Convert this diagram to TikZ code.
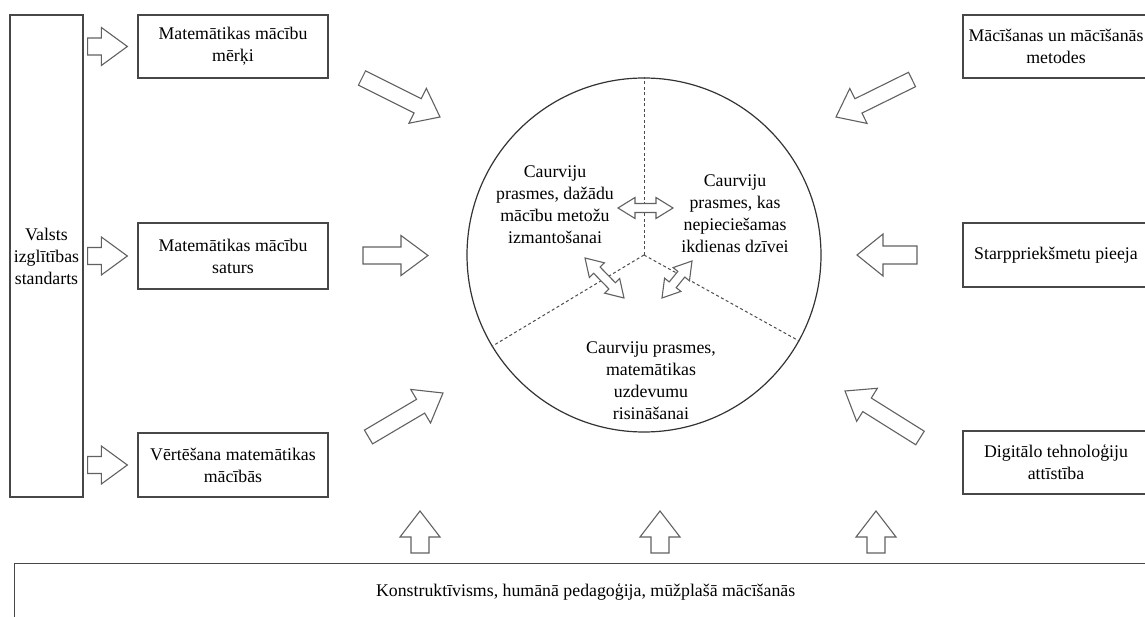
\documentclass[tikz,border=0pt]{standalone}
\usepackage{fontspec}
\setmainfont{Liberation Serif}
\usetikzlibrary{calc}

\tikzset{
  txt/.style={font=\fontsize{17.8pt}{22pt}\selectfont, align=center, text=black},
  boxnode/.style={txt, draw=black!72, line width=1.3pt, fill=white, inner sep=2pt},
  blockarrow/.style={draw=black!62, line width=1.1pt, fill=white, line join=miter},
  divider/.style={draw=black!70, line width=1pt, dash pattern=on 3pt off 2.5pt},
}

% outline block arrow: back point, tip point, half shaft width, half head width, head length (pt)
\newcommand\blkarrow[5]{%
  \coordinate (ba-b) at (#1);
  \coordinate (ba-t) at (#2);
  \coordinate (ba-h) at ($(ba-t)!#5pt!(ba-b)$);
  \draw[blockarrow] ($(ba-b)!#3pt!90:(ba-t)$) -- ($(ba-h)!#3pt!90:(ba-t)$)
    -- ($(ba-h)!#4pt!90:(ba-t)$) -- (ba-t) -- ($(ba-h)!#4pt!-90:(ba-t)$)
    -- ($(ba-h)!#3pt!-90:(ba-t)$) -- ($(ba-b)!#3pt!-90:(ba-t)$) -- cycle;
}

% outline double-headed block arrow between two tips
\newcommand\dblarrow[5]{%
  \coordinate (da-a) at (#1);
  \coordinate (da-b) at (#2);
  \coordinate (da-h1) at ($(da-a)!#5pt!(da-b)$);
  \coordinate (da-h2) at ($(da-b)!#5pt!(da-a)$);
  \draw[blockarrow] (da-a) -- ($(da-h1)!#4pt!90:(da-b)$) -- ($(da-h1)!#3pt!90:(da-b)$)
    -- ($(da-h2)!#3pt!-90:(da-a)$) -- ($(da-h2)!#4pt!-90:(da-a)$) -- (da-b)
    -- ($(da-h2)!#4pt!90:(da-a)$) -- ($(da-h2)!#3pt!90:(da-a)$)
    -- ($(da-h1)!#3pt!-90:(da-b)$) -- ($(da-h1)!#4pt!-90:(da-b)$) -- cycle;
}

\begin{document}
\begin{tikzpicture}[x=1pt, y=-1pt]
  \useasboundingbox (0,0) rectangle (1145,617);
  \clip (0,0) rectangle (1145,617);

  % left column
  \node[boxnode, minimum width=73pt, minimum height=482pt] (std) at (46.5,256)
    {Valsts\\izglītības\\standarts};
  \node[boxnode, minimum width=190pt, minimum height=63pt] (goals) at (233,46.5)
    {Matemātikas mācību\\mērķi};
  \node[boxnode, minimum width=190pt, minimum height=66pt] (content) at (233,256)
    {Matemātikas mācību\\saturs};
  \node[boxnode, minimum width=190pt, minimum height=64pt] (assess) at (233,465)
    {Vērtēšana matemātikas\\mācībās};

  % right column
  \node[boxnode, minimum width=186pt, minimum height=63pt] (methods) at (1056,46.5)
    {Mācīšanas un mācīšanās\\metodes};
  \node[boxnode, minimum width=186pt, minimum height=64pt] (inter) at (1056,255)
    {Starppriekšmetu pieeja};
  \node[boxnode, minimum width=186pt, minimum height=63pt] (digital) at (1056,462.5)
    {Digitālo tehnoloģiju\\attīstība};

  % foundation box
  \node[boxnode, anchor=north west, minimum width=1142pt, minimum height=56pt] (base)
    at (14,563) {Konstruktīvisms, humānā pedagoģija, mūžplašā mācīšanās};

  % central circle with three sectors
  \node[circle, draw=black!80, line width=1.2pt, minimum size=354pt, inner sep=0pt] (circ) at (644,255) {};
  \draw[divider] (circ.center) -- (circ.90);
  \draw[divider] (circ.center) -- (circ.211);
  \draw[divider] (circ.center) -- (circ.331);

  \node[txt] (s1) at (555,205) {Caurviju\\prasmes, dažādu\\mācību metožu\\izmantošanai};
  \node[txt] (s2) at (735,214) {Caurviju\\prasmes, kas\\nepieciešamas\\ikdienas dzīvei};
  \node[txt] (s3) at (651,381) {Caurviju prasmes,\\matemātikas\\uzdevumu\\risināšanai};

  % links between sectors
  \dblarrow{618,208}{673,208}{4.5}{10.5}{17}
  \dblarrow{585,258}{624,298}{4.5}{10.5}{17}
  \dblarrow{662,298}{692,261}{4.5}{10.5}{17}

  % standards feed the three left boxes
  \blkarrow{$(std.east |- goals.west)+(4,0)$}{$(goals.west)+(-10,0)$}{8.5}{19}{26}
  \blkarrow{$(std.east |- content.west)+(4,0)$}{$(content.west)+(-10,0)$}{8.5}{19}{26}
  \blkarrow{$(std.east |- assess.west)+(4,0)$}{$(assess.west)+(-10,0)$}{8.5}{19}{26}

  % arrows into the circle
  \blkarrow{362,78}{440,117}{8}{19.5}{25}
  \blkarrow{363,255.5}{428,255.5}{8.5}{20}{27}
  \blkarrow{368.5,437}{443,393}{8}{19.5}{26}
  \blkarrow{912,79.5}{836,117}{8}{19.5}{25}
  \blkarrow{917,255}{857,255}{9}{21}{26}
  \blkarrow{920,438}{845,391}{8}{19.5}{26}

  % arrows up from the foundation
  \blkarrow{420,553}{420,511}{9}{20}{26}
  \blkarrow{660,553}{660,511}{9}{20}{26}
  \blkarrow{876,553}{876,511}{9}{20}{26}
\end{tikzpicture}
\end{document}
